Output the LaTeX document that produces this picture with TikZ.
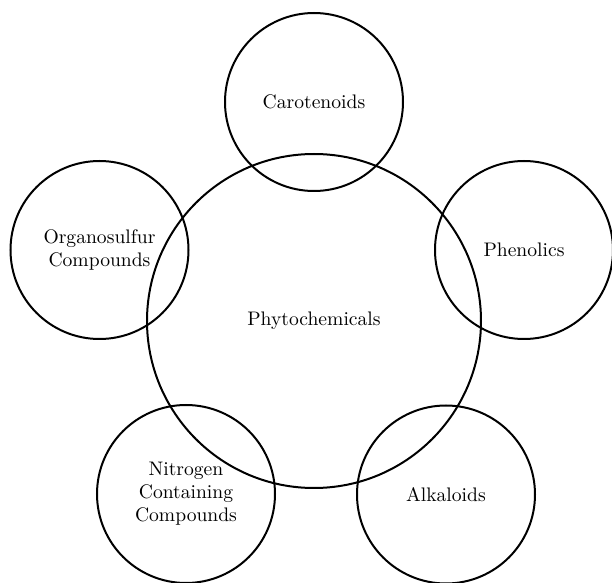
\documentclass[tikz,border=0pt]{standalone}
\begin{document}
\begin{tikzpicture}[x=0.5pt,y=-0.5pt,
  bubble/.style={circle,draw=black,line width=1pt,minimum size=89pt,inner sep=0pt,align=center,font=\fontsize{9.8}{11.5}\selectfont,text=black},
  hub/.style={circle,draw=black,line width=1pt,minimum size=167pt,inner sep=0pt,align=center,font=\fontsize{9.8}{11.5}\selectfont,text=black}]
\useasboundingbox (0,0) rectangle (612,583);
\node[hub] (phy) at (314,321) {Phytochemicals};
\node[bubble] (car) at (314,102) {Carotenoids};
\node[bubble] (org) at (99.5,250) {Organosulfur\\Compounds};
\node[bubble] (phe) at (524,250) {Phenolics};
\node[bubble] (nit) at (186,494) {Nitrogen\\Containing\\Compounds};
\node[bubble] (alk) at (446,494.5) {Alkaloids};
\end{tikzpicture}
\end{document}
